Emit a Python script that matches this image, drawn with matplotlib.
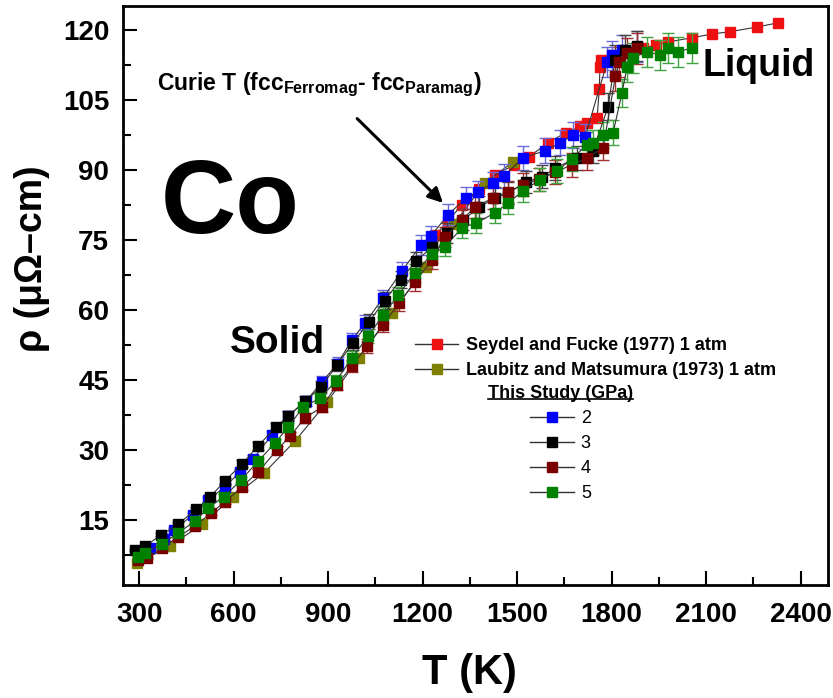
import matplotlib
matplotlib.use("Agg")
import matplotlib.pyplot as plt
from matplotlib.lines import Line2D
from matplotlib.ticker import MultipleLocator

plt.rcParams['font.family'] = ['Liberation Sans', 'DejaVu Sans']
plt.rcParams['mathtext.fontset'] = 'custom'
plt.rcParams['mathtext.rm'] = 'Liberation Sans'
plt.rcParams['mathtext.bf'] = 'Liberation Sans:bold'

# Seydel and Fucke (1977) 1 atm
seydel_T = [1240, 1280, 1325, 1380, 1430, 1490, 1538, 1598, 1655, 1700, 1722, 1754, 1761, 1763, 1766,
            1800, 1850, 1900, 1940, 1980, 2055, 2119, 2176, 2262, 2328]
seydel_rho = [76.0, 79.0, 82.5, 86.0, 89.0, 91.0, 92.8, 95.8, 98.0, 99.3, 100.0, 101.1, 107.3, 112.0, 113.5,
              114.5, 115.3, 116.0, 116.8, 117.4, 118.3, 119.1, 119.6, 120.6, 121.5]

# Laubitz and Matsumura (1973) 1 atm
laubitz_T = [294, 398, 500, 598, 697, 795, 897, 998, 1103, 1211, 1300, 1398, 1487]
laubitz_rho = [5.8, 9.4, 14.1, 19.9, 25.1, 31.9, 40.3, 49.7, 59.4, 69.2, 78.5, 87.2, 91.7]

# This study, 2 GPa
p2_T = [300, 335, 380, 411, 471, 519, 573, 620, 662, 722, 773, 830, 880, 930, 976, 1017, 1075, 1135,
        1195, 1227, 1281, 1338, 1376, 1424, 1459, 1519, 1589, 1637, 1678, 1716, 1786, 1800, 1833, 1881]
p2_rho = [8.3, 9.0, 11.0, 12.9, 16.1, 19.3, 22.1, 25.3, 28.1, 33.2, 37.3, 40.5, 44.5, 48.5, 53.6, 57.2,
          62.6, 68.4, 73.9, 75.9, 80.4, 84.0, 85.3, 87.2, 88.7, 92.6, 94.1, 95.8, 97.5, 97.1, 113.1,
          114.5, 115.7, 116.4]

# This study, 3 GPa
p3_T = [287, 319, 370, 424, 481, 525, 573, 627, 678, 735, 773, 827, 878, 928, 979, 1030, 1080, 1130,
        1180, 1230, 1278, 1329, 1380, 1430, 1471, 1529, 1580, 1621, 1690, 1740, 1789, 1811, 1843, 1880]
p3_rho = [8.6, 9.4, 11.8, 14.1, 17.3, 19.9, 23.4, 27.0, 30.9, 34.9, 37.3, 40.4, 43.5, 48.2, 52.9, 57.5,
          62.0, 66.5, 70.5, 73.5, 76.5, 79.3, 82.0, 84.0, 85.0, 87.4, 88.5, 90.4, 92.6, 94.0, 103.5,
          113.6, 115.7, 116.5]

# This study, 4 GPa
p4_T = [297, 325, 373, 424, 478, 528, 573, 627, 678, 738, 780, 827, 881, 928, 976, 1024, 1075, 1125,
        1176, 1230, 1271, 1325, 1366, 1424, 1471, 1519, 1570, 1620, 1675, 1722, 1773, 1812, 1825, 1850, 1880]
p4_rho = [6.4, 6.8, 9.0, 11.4, 13.7, 16.5, 18.9, 22.1, 25.3, 30.0, 33.0, 36.9, 39.2, 44.0, 48.0, 52.3,
          56.8, 61.5, 66.0, 70.7, 75.6, 79.3, 82.0, 84.0, 85.3, 86.8, 88.0, 89.5, 91.1, 92.6, 94.7,
          110.0, 113.1, 115.0, 116.0]

# This study, 5 GPa
p5_T = [297, 319, 373, 424, 478, 519, 570, 624, 678, 732, 773, 821, 875, 925, 976, 1027, 1075, 1122,
        1176, 1230, 1271, 1325, 1370, 1430, 1471, 1519, 1573, 1627, 1675, 1722, 1741, 1773, 1805, 1833,
        1849, 1868, 1913, 1954, 1979, 2011, 2055]
p5_rho = [7.0, 7.9, 9.9, 12.2, 14.8, 17.6, 20.0, 23.6, 27.6, 31.5, 34.9, 39.2, 41.1, 44.8, 49.7, 54.4,
          58.9, 63.2, 67.9, 72.0, 73.5, 77.6, 78.6, 80.8, 82.9, 85.5, 87.9, 89.8, 92.4, 95.4, 95.8,
          97.5, 98.0, 106.5, 112.0, 114.0, 115.3, 114.6, 116.1, 115.3, 116.1]

err_frac = 0.028  # relative uncertainty of this study

study = [
    ("2", p2_T, p2_rho, "#0000ff", "#6a6ad8"),
    ("3", p3_T, p3_rho, "#000000", "#444444"),
    ("4", p4_T, p4_rho, "#7a0000", "#a03030"),
    ("5", p5_T, p5_rho, "#008000", "#3fa33f"),
]

fig = plt.figure(figsize=(8.33, 6.98), dpi=100)
ax = fig.add_axes([0.1477, 0.1619, 0.8463, 0.8295])

line_c = "#333333"
ms = 7.8

ax.plot(seydel_T, seydel_rho, '-', marker='s', color=line_c, lw=0.8, ms=ms,
        mfc="#ee1111", mec="#ee1111", zorder=2)
ax.plot(laubitz_T, laubitz_rho, '-', marker='s', color=line_c, lw=0.8, ms=ms,
        mfc="#808000", mec="#808000", zorder=2)

for name, T, rho, c, ec in study:
    yerr = [r * err_frac for r in rho]
    ax.errorbar(T, rho, yerr=yerr, fmt='-', marker='s', color=line_c, lw=0.8, ms=ms,
                mfc=c, mec=c, ecolor=ec, elinewidth=1.0, capsize=4.5, capthick=1.0, zorder=3)

ax.set_xlim(249, 2487)
ax.set_ylim(1.07, 125.1)
ax.xaxis.set_minor_locator(MultipleLocator(150))
ax.yaxis.set_major_locator(MultipleLocator(15))
ax.yaxis.set_minor_locator(MultipleLocator(7.5))
ax.set_xticks(range(300, 2401, 300))
ax.tick_params(which='both', direction='in', top=False, right=False, width=1.5)
ax.tick_params(which='major', length=10)
ax.tick_params(which='minor', length=6)
ax.tick_params(axis='x', pad=12)
ax.tick_params(axis='y', pad=10)
for lab in ax.get_xticklabels() + ax.get_yticklabels():
    lab.set_fontsize(20)
    lab.set_fontweight('bold')
for s in ax.spines.values():
    s.set_linewidth(2)

ax.set_xlabel("T (K)", fontsize=30, fontweight='bold')
ax.xaxis.set_label_coords(0.492, -0.118)
ax.set_ylabel("ρ (μΩ–cm)", fontsize=27, fontweight='bold')
ax.yaxis.set_label_coords(-0.103, 0.563)

ax.text(370, 76.5, "Co", fontsize=75, fontweight='bold', ha='left', va='baseline')
ax.text(589, 50.8, "Solid", fontsize=28, fontweight='bold', ha='left', va='baseline')
ax.text(2087, 110.1, "Liquid", fontsize=27, fontweight='bold', ha='left', va='baseline')
ax.text(357, 107.1, r"Curie T (fcc$_{\mathbf{Ferromag}}$- fcc$_{\mathbf{Paramag}}$)",
        fontsize=16.5, fontweight='bold', ha='left', va='baseline')
ax.annotate("", xy=(1271, 82.5), xytext=(986, 101.4),
            arrowprops=dict(arrowstyle='-|>', color='black', lw=2.2, mutation_scale=22))

# legends
h_ref = [Line2D([], [], color=line_c, lw=1, marker='s', ms=7, mfc="#ee1111", mec="#ee1111"),
         Line2D([], [], color=line_c, lw=1, marker='s', ms=7, mfc="#808000", mec="#808000")]
leg1 = ax.legend(h_ref, ["Seydel and Fucke (1977) 1 atm", "Laubitz and Matsumura (1973) 1 atm"],
                 loc='upper left', bbox_to_anchor=(415 / 833, 1 - 337 / 698), bbox_transform=fig.transFigure,
                 frameon=False, borderpad=0, borderaxespad=0, handlelength=2.4, handletextpad=0.4,
                 labelspacing=0.45, prop=dict(size=13, weight='bold'))
ax.add_artist(leg1)

h_st = [Line2D([], [], color=line_c, lw=1, marker='s', ms=7, mfc=c, mec=c) for _, _, _, c, _ in study]
leg2 = ax.legend(h_st, [s[0] for s in study], title="This Study (GPa)",
                 loc='upper left', bbox_to_anchor=(488 / 833, 1 - 385 / 698), bbox_transform=fig.transFigure,
                 frameon=False, borderpad=0, borderaxespad=0, handlelength=2.4, handletextpad=0.4,
                 labelspacing=0.45, prop=dict(size=13),
                 title_fontproperties=dict(size=13, weight='bold'))

fig.canvas.draw()
tb = leg2.get_title().get_window_extent()
W, H = fig.bbox.width, fig.bbox.height
uy = (tb.y0 + 3) / H
fig.add_artist(Line2D([tb.x0 / W, tb.x1 / W], [uy, uy], color='black', lw=1.2,
                      transform=fig.transFigure))

fig.savefig("out.png", dpi=100)
